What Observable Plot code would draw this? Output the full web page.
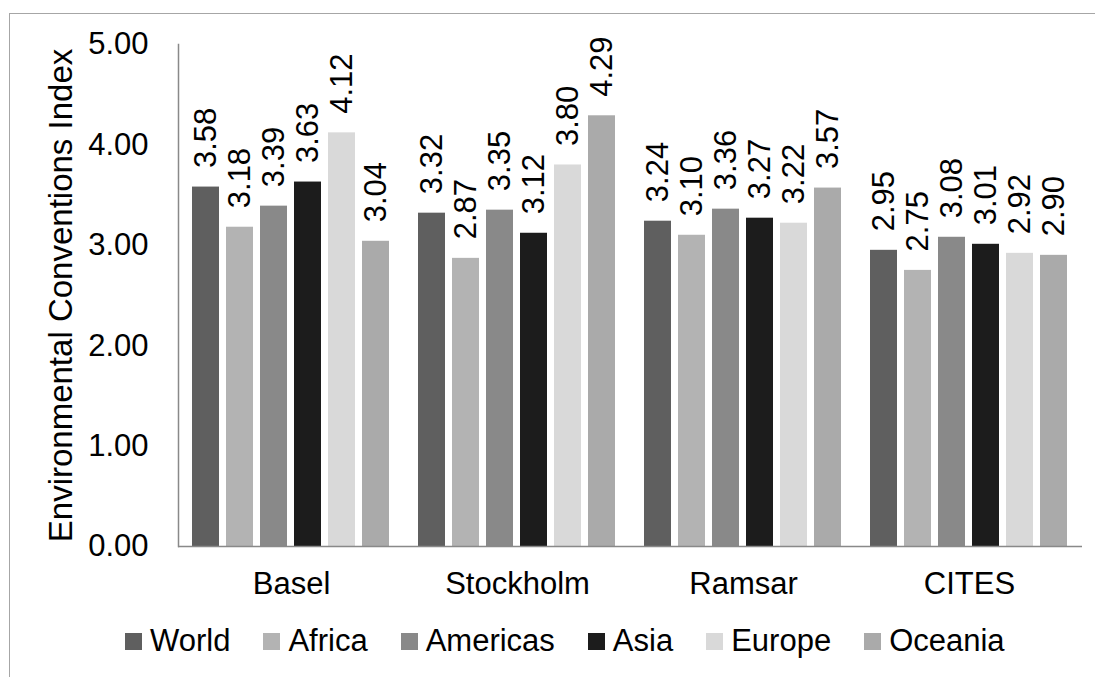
<!DOCTYPE html>
<html>
<head>
<meta charset="utf-8">
<script src="https://cdn.jsdelivr.net/npm/d3@7"></script>
<script src="https://cdn.jsdelivr.net/npm/@observablehq/plot@0.6"></script>
<style>
  html, body { margin: 0; padding: 0; background: #fff; width: 1095px; height: 677px; overflow: hidden; }
  body { position: relative; font-family: "Liberation Sans", Arial, sans-serif; color: #000; }
  #border { position: absolute; left: 9px; top: 13px; width: 2000px; height: 2000px;
            border-left: 1px solid #a6a6a6; border-top: 1px solid #a6a6a6; }
  #chart { position: absolute; left: 0; top: 0; }
  #legend { position: absolute; left: 125px; top: 623px; height: 36px; display: flex; align-items: center;
            font-size: 31px; white-space: nowrap; }
  .item { display: flex; align-items: center; margin-right: 33px; }
  .sw { width: 17px; height: 17px; margin-right: 8px; }
</style>
</head>
<body>
<div id="border"></div>
<div id="chart"></div>
<div id="legend"></div>
<script>
const conventions = ["Basel", "Stockholm", "Ramsar", "CITES"];
const regions = ["World", "Africa", "Americas", "Asia", "Europe", "Oceania"];
const colors = ["#5f5f5f", "#b3b3b3", "#898989", "#1c1c1c", "#d9d9d9", "#aaaaaa"];
const world    = [3.58, 3.32, 3.24, 2.95];
const africa   = [3.18, 2.87, 3.10, 2.75];
const americas = [3.39, 3.35, 3.36, 3.08];
const asia     = [3.63, 3.12, 3.27, 3.01];
const europe   = [4.12, 3.80, 3.22, 2.92];
const oceania  = [3.04, 4.29, 3.57, 2.90];
const yTicks = [0, 1, 2, 3, 4, 5];

const series = [world, africa, americas, asia, europe, oceania];
const data = [];
conventions.forEach((c, ci) => {
  regions.forEach((r, ri) => {
    data.push({convention: c, region: r, value: series[ri][ci]});
  });
});

const fmt = d3.format(".2f");
const axisColor = "#898989";
const font = "'Liberation Sans', Arial, sans-serif";

const chart = Plot.plot({
  width: 1095,
  height: 610,
  marginLeft: 178,
  marginRight: 13,
  marginTop: 44,
  marginBottom: 64,
  style: {fontFamily: font, fontSize: "31px", color: "#000", background: "transparent"},
  fx: {domain: conventions, padding: 0, label: null, axis: null},
  x: {domain: regions, paddingInner: 0.205, paddingOuter: 0.407, axis: null},
  y: {domain: [0, 5], axis: null},
  color: {domain: regions, range: colors},
  marks: [
    Plot.barY(data, {fx: "convention", x: "region", y: "value", fill: "region"}),
    Plot.ruleY([0], {stroke: axisColor, strokeWidth: 1.5}),
    Plot.frame({anchor: "left", facet: "super", stroke: axisColor, strokeWidth: 1.5}),
    Plot.axisY(yTicks, {anchor: "left", tickSize: 0, tickPadding: 30, tickFormat: fmt, label: null, fontSize: 31}),
    Plot.axisY({anchor: "left", ticks: [], tickSize: 0, label: "Environmental Conventions Index",
      labelAnchor: "center", labelArrow: "none", labelOffset: 130, fontSize: 33}),
    Plot.axisFx({anchor: "bottom", tickSize: 0, tickPadding: 25, label: null, fontSize: 31}),
    Plot.text(data, {fx: "convention", x: "region", y: "value", text: d => fmt(d.value),
      rotate: -90, textAnchor: "start", dy: -19, fontSize: 31, fill: "#000"})
  ]
});
document.getElementById("chart").appendChild(chart);

const legend = document.getElementById("legend");
regions.forEach((r, i) => {
  const item = document.createElement("div");
  item.className = "item";
  const sw = document.createElement("div");
  sw.className = "sw";
  sw.style.background = colors[i];
  const label = document.createElement("span");
  label.textContent = r;
  item.appendChild(sw);
  item.appendChild(label);
  legend.appendChild(item);
});
</script>
</body>
</html>
